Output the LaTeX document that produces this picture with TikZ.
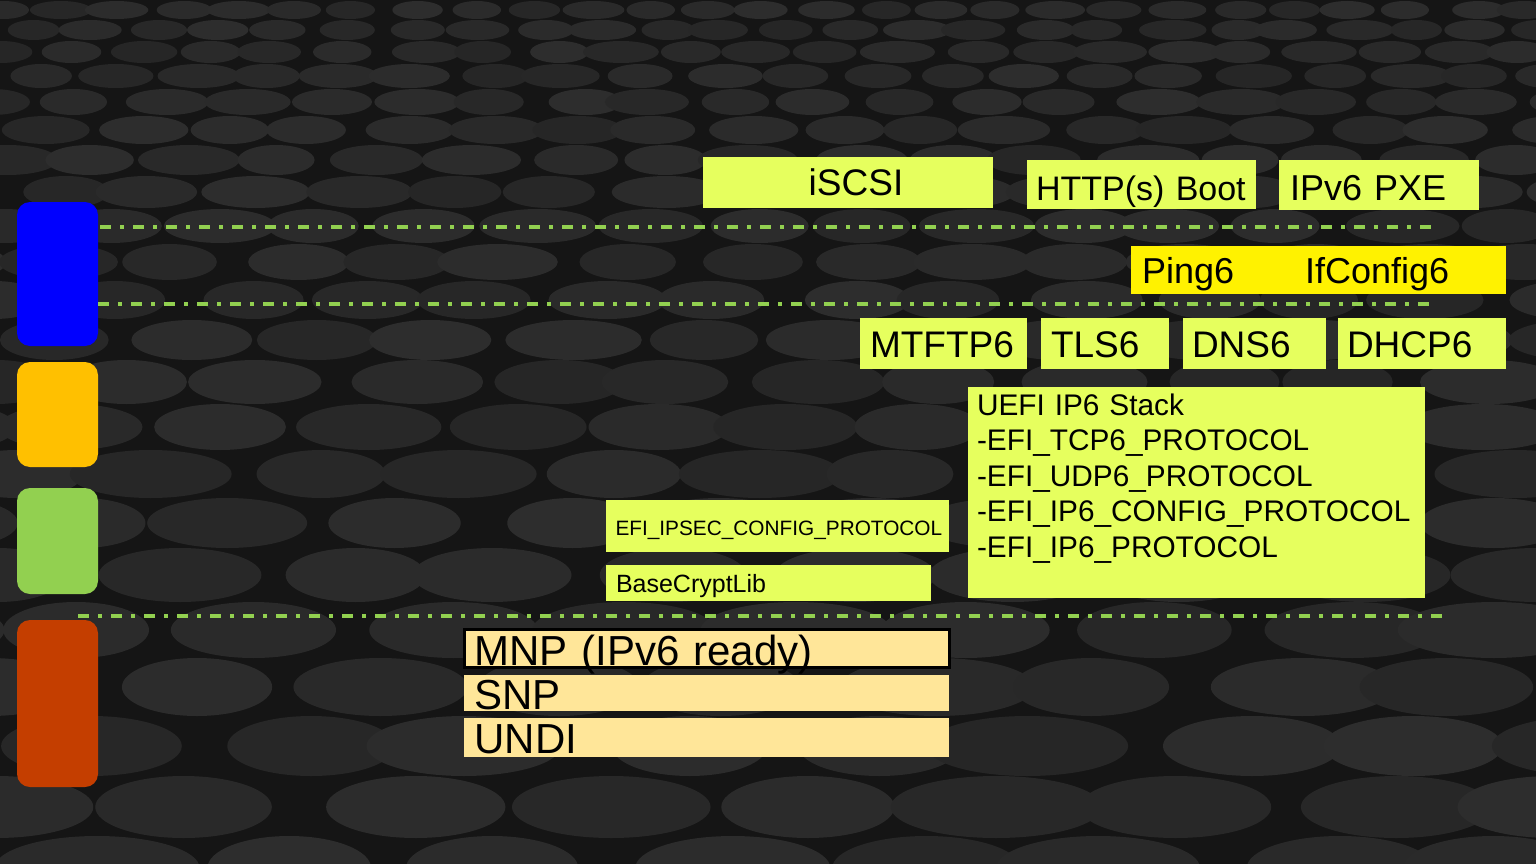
\documentclass[tikz,border=0pt]{standalone}
\usepackage{fontspec}
\setmainfont{Liberation Sans}

\definecolor{bgdark}{HTML}{151515}
\definecolor{bgdisc}{HTML}{2D2D2D}
\definecolor{boxlime}{HTML}{E6FF5E}
\definecolor{boxgold}{HTML}{FFE699}
\definecolor{sepgreen}{HTML}{92D050}
\definecolor{tabblue}{HTML}{0000FF}
\definecolor{taborange}{HTML}{FFC000}
\definecolor{tabgreen}{HTML}{92D050}
\definecolor{tabred}{HTML}{C43E00}

\tikzset{
  layer/.style={fill=boxlime, anchor=base west, align=left, inner ysep=0pt, outer sep=0pt},
  big/.style={font=\fontsize{37}{44}\selectfont},
  driver/.style={layer, fill=boxgold, font=\fontsize{42}{50}\selectfont, inner xsep=10.5pt},
  tab/.style={rounded corners=13pt, minimum width=81pt, inner sep=0pt, outer sep=0pt},
  sepline/.style={draw=sepgreen, line width=4pt, dash pattern=on 11pt off 9pt on 3.5pt off 9.5pt},
}

\begin{document}
\begin{tikzpicture}[x=1pt,y=-1pt]
  \useasboundingbox (0,0) rectangle (1536,864);
  % background discs
  \fill[bgdark] (0,0) rectangle (1536,864);
  \pgfmathsetseed{42}
  \begin{scope}
    \clip (0,0) rectangle (1536,864);
    \foreach \y/\rx/\ry [count=\i] in {10/28/9, 30/30/10, 52/33/11, 76/36/12, 102/39/13,
        130/42/14, 160/45/15, 192/48/16, 226/51/17, 262/54/18, 300/57/19, 340/60/20,
        382/64/22, 427/68/23, 474/72/24, 523/75/25, 575/80/27, 630/84/28, 687/87/29,
        746/90/30, 807/93/31, 868/96/32}{
      \foreach \k in {0,...,26}{
        \pgfmathsetmacro{\xx}{\k*2.1*\rx+mod(\i,2)*1.05*\rx-\rx+0.3*\rx*rand}
        \pgfmathsetmacro{\sx}{\rx*(1+0.15*rand)}
        \pgfmathsetmacro{\pp}{85+15*rand}
        \fill[bgdisc!\pp!bgdark] (\xx,\y) ellipse [x radius=\sx, y radius=\ry];
      }
    }
  \end{scope}

  % side tabs
  \node[tab, fill=tabblue, minimum height=144pt] (apps) at (57.5,274) {};
  \node[tab, fill=taborange, minimum height=105pt] (shell) at (57.5,414.5) {};
  \node[tab, fill=tabgreen, minimum height=106pt] (stackt) at (57.5,541) {};
  \node[tab, fill=tabred, minimum height=167pt] (link) at (57.5,703.5) {};

  % layer separators
  \draw[sepline] (100,226.7) -- (1435,226.7);
  \draw[sepline] (98,304.3) -- (1437,304.3);
  \draw[sepline] (78,616) -- (1443,616);

  % boot applications
  \node[layer, big, align=center, text width=290pt, inner xsep=0pt, text height=38pt, text depth=13pt] (iscsi) at (703,195) {\hspace*{16pt}iSCSI};
  \node[layer, font=\fontsize{34}{41}\selectfont, inner xsep=9pt, text width=211pt, text height=40pt, text depth=9pt] (http) at (1027,200) {HTTP(s)~Boot};
  \node[layer, font=\fontsize{36}{43}\selectfont, inner xsep=11pt, text width=178pt, text height=40pt, text depth=10pt] (pxe) at (1279,200) {IPv6~PXE};

  % shell tools
  \node[layer, font=\fontsize{36}{43}\selectfont, fill=yellow, inner xsep=11pt, text width=353pt, text height=37pt, text depth=11pt] (tools) at (1131,283) {Ping6\hspace{71pt}IfConfig6};

  % network protocols
  \node[layer, big, inner xsep=10pt, text width=147pt, text height=39pt, text depth=12pt] (mtftp) at (860,357) {MTFTP6};
  \node[layer, big, inner xsep=10pt, text width=108pt, text height=39pt, text depth=12pt] (tls) at (1041,357) {TLS6};
  \node[layer, big, inner xsep=9pt, text width=125pt, text height=39pt, text depth=12pt] (dns) at (1183,357) {DNS6};
  \node[layer, big, inner xsep=9pt, text width=150pt, text height=39pt, text depth=12pt] (dhcp) at (1338,357) {DHCP6};

  \node[layer, font=\fontsize{29.8}{35.5}\selectfont, inner xsep=9pt, text width=439pt, text height=28.3pt, text depth=182.7pt] (stack) at (968,415.3)
    {UEFI IP6 Stack\\-EFI\_TCP6\_PROTOCOL\\-EFI\_UDP6\_PROTOCOL\\-EFI\_IP6\_CONFIG\_PROTOCOL\\-EFI\_IP6\_PROTOCOL};
  \node[layer, font=\fontsize{20.8}{25}\selectfont, inner xsep=9.5pt, text width=324pt, text height=35pt, text depth=17pt] (ipsec) at (606,535) {EFI\_IPSEC\_CONFIG\_PROTOCOL};
  \node[layer, font=\fontsize{25}{30}\selectfont, inner xsep=10pt, text width=305pt, text height=27pt, text depth=9pt] (crypt) at (606,592) {BaseCryptLib};

  % drivers
  \node[driver, draw=black, line width=3.3pt, inner xsep=9.5pt, text width=465.6pt, text height=35.3pt, text depth=2.3pt] (mnp) at (464.7,665) {MNP (IPv6 ready)};
  \node[driver, text width=464pt, text height=34pt, text depth=2pt] (snp) at (464,709) {SNP};
  \node[driver, text width=464pt, text height=35pt, text depth=4pt] (undi) at (464,753) {UNDI};
\end{tikzpicture}
\end{document}
